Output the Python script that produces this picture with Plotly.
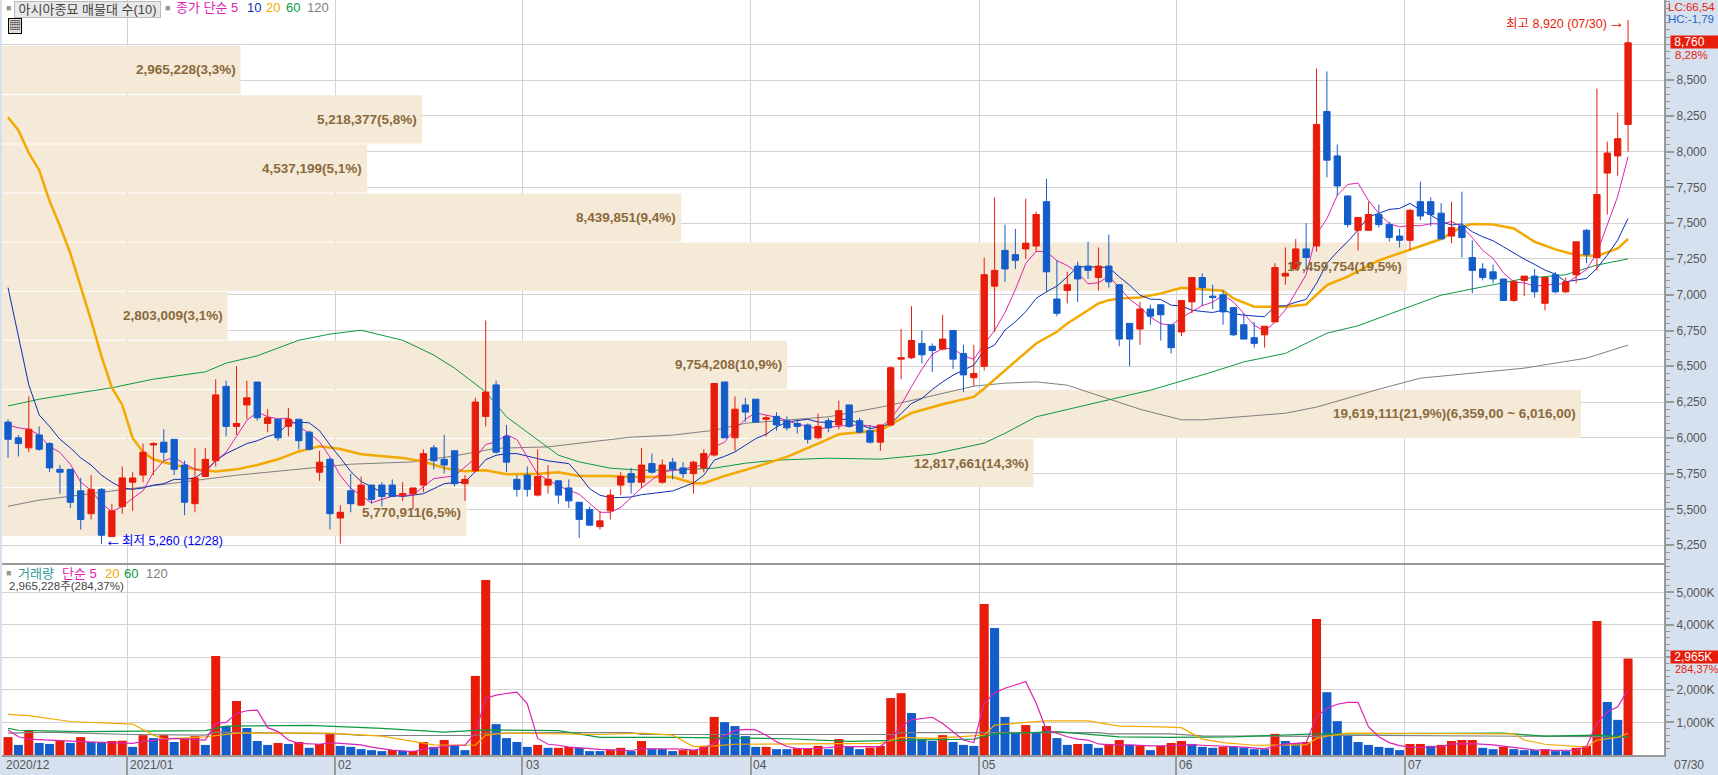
import plotly.graph_objects as go

open_ = [6110,6000,5930,6020,5960,5780,5780,5630,5470,5640,5310,5520,5690,5740,5950,5970,5990,5810,5540,5730,
5840,6360,6080,6230,6390,6100,6130,6080,6130,6040,5760,5850,5440,5630,5530,5670,5670,5670,5600,5610,
5670,5930,5850,5910,5680,5770,6150,6370,6010,5710,5740,5600,5670,5700,5650,5550,5500,5380,5490,5670,
5750,5690,5820,5690,5830,5790,5750,5790,5880,6390,6000,6230,6270,6130,6150,6120,6100,6090,6000,6120,
6090,6230,6120,6050,5970,6090,6550,6560,6660,6640,6620,6750,6590,6420,6500,7060,7310,7280,7320,7340,
7650,6970,7030,7200,7200,7120,7200,7070,6800,6760,6900,6930,6790,6740,6950,7120,6990,7000,6910,6790,
6700,6720,6810,7130,7180,7320,7340,8280,7970,7690,7450,7450,7560,7490,7410,7380,7650,7650,7570,7410,
7480,7260,7180,7160,7110,6960,7100,7130,6940,7140,7020,7140,7450,7260,7850,7970,8190]
high = [6130,6020,6290,6080,5970,5810,5780,5720,5740,5650,5540,5800,5760,5960,5970,6060,5990,5840,5930,5930,
6410,6400,6500,6400,6390,6200,6130,6210,6130,6050,5910,5860,5530,5750,5730,5670,5690,5710,5690,5650,
5920,5950,6020,5910,5740,6280,6820,6400,6090,5740,5800,5920,5810,5700,5710,5550,5520,5490,5640,5760,
5790,5930,5890,5850,5860,5830,5840,5920,6380,6390,6290,6280,6270,6160,6180,6150,6130,6100,6170,6140,
6260,6230,6140,6090,6090,6500,6760,6920,6750,6660,6860,6750,6650,6650,7260,7680,7490,7460,7670,7580,
7810,7240,7160,7230,7370,7330,7420,7070,6800,6950,6930,6930,6790,6960,7120,7150,7070,7030,6910,6870,
6810,6780,7220,7330,7390,7500,8580,8560,8050,7690,7540,7650,7630,7510,7460,7600,7790,7680,7640,7650,
7720,7380,7220,7210,7110,7100,7130,7180,7120,7160,7120,7370,7460,8440,8070,8270,8920]
low = [5860,5870,5900,5910,5760,5610,5510,5360,5430,5260,5310,5470,5490,5690,5740,5840,5740,5460,5480,5730,
5800,6010,6020,6130,6120,6040,5980,6010,5920,5910,5700,5360,5260,5480,5530,5540,5520,5590,5560,5500,
5620,5780,5750,5660,5560,5760,6080,5890,5760,5590,5590,5590,5610,5540,5510,5300,5390,5360,5430,5600,
5610,5650,5750,5680,5710,5720,5610,5760,5870,6000,5910,6110,6110,6010,6050,6050,6030,5960,5990,6040,
6060,6070,6030,5960,5910,6080,6410,6550,6520,6460,6610,6480,6320,6360,6470,6740,7090,7180,7250,7300,
7020,6850,6940,6950,7110,7030,7050,6640,6500,6650,6790,6680,6590,6710,6870,6920,6900,6790,6710,6690,
6630,6630,6810,7070,7170,7170,7300,7820,7690,7470,7310,7450,7470,7370,7330,7310,7520,7480,7390,7360,
7260,7010,7100,7080,6960,6950,6990,6980,6890,7010,7010,7080,7220,7170,7560,7830,8000]
close = [5990,5960,6060,5920,5790,5760,5550,5430,5640,5320,5490,5720,5720,5900,5960,5900,5780,5550,5720,5850,
6300,6080,6100,6280,6140,6140,6000,6130,5980,5920,5830,5470,5480,5540,5670,5570,5590,5590,5610,5650,
5890,5840,5810,5680,5710,6250,6320,5900,5830,5640,5640,5730,5710,5600,5560,5430,5390,5420,5600,5730,
5690,5810,5760,5810,5780,5750,5830,5890,6380,6000,6200,6180,6110,6140,6090,6070,6080,5990,6080,6070,
6190,6080,6040,5970,6090,6490,6560,6680,6580,6610,6690,6550,6440,6450,7140,7170,7180,7240,7360,7560,
7160,6870,7070,7110,7170,7200,7090,6690,6690,6900,6850,6860,6630,6960,7120,7050,6980,6880,6720,6690,
6660,6780,7190,7150,7320,7260,8190,7940,7760,7490,7540,7560,7490,7400,7380,7590,7550,7560,7390,7470,
7400,7170,7120,7110,6960,7090,7130,7020,7120,7020,7090,7370,7280,7700,7990,8090,8760]

volume_k = [550,310,740,370,340,430,370,550,400,390,430,440,250,610,520,610,400,520,580,310,
3040,890,1660,830,430,310,370,340,400,220,340,650,280,250,180,150,120,150,130,130,
400,250,460,280,150,2430,5380,950,520,400,250,310,220,220,250,220,120,120,150,220,
120,430,180,180,120,150,150,280,1170,1010,890,580,250,250,180,180,210,210,280,180,
490,250,180,230,280,1750,1900,1290,490,430,610,400,310,280,4640,3900,1170,710,920,680,
890,520,310,340,340,220,340,460,310,290,150,280,370,430,340,250,220,250,250,230,
180,180,650,430,370,400,4180,1930,1040,610,400,310,250,220,150,340,340,280,310,430,
460,460,220,180,250,180,150,150,180,120,120,220,280,4120,1630,1080,2965]
volume_up = ("RBRBBRBRBB" "RRBRBRBRRB" "RBRBBBRBRB" "RRBBBBBRBR" "RBRBBRRBBB" "BRBRRBBBRR" "BRBBBRRRRB" "BBBRBBRRRB"
             "RBBRRRRBBB" "RBBBRBBBRB" "RBBRBBRRBR" "BRRRBBBRBB" "BBRBBRRBBB" "BBBBBRRBRR" "RRBBRBBBRB" "BRRRBBR")

ma5_idx = [0,1,2,3,4,5,6,7,8,9,10,11,12,13,14,15,16,17,18,19,20,21,22,23,24,25,26,27,28,29,30,31,32,33,34,35,36,37,39,41,43,45,46,47,48,49,50,51,53,55,57,58,59,61,63,65,67,68,69,70,71,72,74,76,78,80,82,84,85,86,87,88,89,90,91,92,93,94,95,96,97,98,99,100,101,102,103,104,105,106,107,108,109,110,111,112,113,114,115,116,117,118,119,120,121,122,123,124,125,126,127,128,129,130,131,132,133,134,135,136,137,138,139,140,141,142,143,144,145,146,147,148,149,150,151,152,153,154,155,156]
ma5_val = [6090,6070,6060,6020,5940,5898,5816,5690,5634,5540,5486,5520,5578,5630,5758,5840,5864,5818,5782,5760,5840,5900,6010,6122,6180,6148,6132,6138,6078,6034,5972,5866,5736,5648,5598,5546,5570,5592,5602,5716,5734,5858,5954,5972,6022,5988,5866,5748,5664,5606,5480,5480,5514,5650,5762,5782,5812,5936,5970,6060,6130,6174,6144,6098,6062,6082,6092,6074,6134,6230,6358,6480,6584,6624,6622,6574,6548,6654,6750,6876,7036,7218,7302,7300,7238,7204,7154,7076,7084,7128,7052,6968,6914,6844,6798,6786,6840,6884,6924,6948,6998,6950,6864,6786,6746,6808,6894,7020,7140,7422,7532,7694,7770,7780,7658,7568,7496,7474,7484,7482,7496,7494,7512,7474,7398,7310,7254,7152,7090,7082,7062,7064,7076,7076,7124,7176,7292,7486,7686,7964]

ma10_val = [7050,6720,6370,6160,6080,5990,5930,5860,5810,5740,5690,5650,5640,5650,5670,5680,5710,5710,5720,5770,5840,5890,5925,5960,5980,6010,6030,6100,6110,6105,6050,5950,5860,5765,5695,5655,5620,5600,5590,5600,
5610,5645,5680,5687,5690,5764,5848,5878,5890,5890,5871,5855,5839,5832,5820,5739,5645,5599,5583,5583,5587,5603,5613,5618,5629,5657,5685,5739,5844,5871,5902,5948,5995,6025,6076,6111,6123,6130,6111,6107,
6123,6135,6095,6065,6077,6100,6170,6240,6275,6338,6391,6438,6473,6508,6612,6648,6753,6811,6881,6974,7021,7060,7125,7195,7195,7195,7191,7125,7067,6997,6969,6967,6927,6920,6892,6883,6876,6892,6869,6857,
6850,6846,6920,6923,6948,6967,7079,7219,7300,7370,7452,7545,7568,7596,7603,7638,7592,7557,7510,7487,7494,7440,7405,7377,7335,7289,7249,7212,7172,7144,7091,7102,7114,7184,7277,7382,7533]

ma20_idx = [0,1,2,3,4,5,6,7,8,9,10,11,12,13,14,15,16,17,18,19,20,22,24,26,28,30,32,34,36,38,40,42,44,46,48,51,53,55,58,60,64,66,67,69,72,75,78,80,84,87,90,93,94,96,99,101,102,104,105,106,107,109,111,113,115,117,118,120,123,125,127,129,132,134,138,140,141,143,145,147,149,151,153,155,156]
ma20_val = [8240,8150,7990,7870,7655,7480,7290,7056,6820,6570,6350,6230,6000,5900,5850,5830,5810,5795,5780,5770,5765,5780,5810,5850,5905,5942,5922,5885,5870,5860,5835,5790,5767,5774,5746,5750,5760,5734,5734,5727,5727,5683,5683,5734,5797,5867,5960,6025,6053,6174,6235,6286,6345,6473,6659,6741,6799,6892,6939,6962,6974,6981,7009,7049,7037,7028,6974,6916,6916,6932,7067,7126,7240,7289,7389,7475,7494,7491,7463,7370,7317,7277,7270,7323,7389]

ma60_idx = [0,3,6,10,14,19,21,24,28,31,34,38,39,41,43,46,48,52,53,55,58,61,64,68,71,74,79,84,89,94,96,99,103,105,110,116,119,123,127,130,133,138,142,146,150,153,156]
ma60_val = [6223,6270,6305,6350,6410,6461,6522,6573,6682,6725,6752,6682,6648,6578,6487,6321,6147,5937,5879,5832,5788,5774,5774,5788,5823,5844,5858,5851,5886,5963,6032,6147,6217,6249,6333,6461,6531,6590,6731,6783,6864,6997,7055,7113,7140,7207,7250]

ma120_idx = [0,3,6,13,17,22,27,30,33,39,43,47,52,60,64,68,71,79,84,88,93,96,99,102,105,109,113,115,123,126,132,136,146,152,156]
ma120_val = [5522,5565,5592,5657,5692,5739,5774,5795,5816,5832,5874,5927,5937,6005,6019,6053,6102,6147,6214,6277,6361,6382,6391,6368,6298,6200,6126,6126,6172,6215,6340,6417,6487,6557,6648]

vma5_idx = [0,1,2,4,7,12,13,16,19,20,21,22,23,24,25,26,27,28,30,31,32,34,35,37,38,39,40,42,43,44,45,46,47,48,49,50,51,52,53,54,56,57,59,60,61,63,65,66,67,68,69,70,71,72,73,74,75,76,78,80,84,85,86,87,88,89,90,91,92,93,94,95,96,97,98,99,100,101,102,103,104,105,106,108,110,112,114,115,117,119,121,122,123,124,125,126,127,128,129,130,131,132,133,134,135,136,138,139,141,143,145,147,149,151,152,153,154,155,156]
vma5_val = [770,560,490,460,410,360,420,510,460,970,1000,1280,1360,1380,840,720,460,360,330,380,360,310,240,150,130,100,180,260,300,300,670,1740,1840,1890,1930,1570,510,330,300,240,190,170,150,130,200,200,180,150,200,360,610,750,790,770,610,410,260,200,200,260,260,510,870,1080,1120,1160,970,720,460,380,1590,1910,2050,2150,2260,1590,770,670,560,490,460,340,310,310,280,290,320,300,280,240,190,260,340,360,380,1180,1430,1560,1620,1620,870,560,380,290,240,230,260,340,350,310,240,160,140,150,260,970,1320,1480,2000]
vma20_idx = [0,2,6,11,12,14,15,19,22,28,31,36,39,41,45,46,48,57,61,64,66,68,70,79,84,86,89,94,95,98,100,104,107,110,113,115,117,120,122,125,126,127,129,133,145,146,148,152,153,155,156]
vma20_val = [1250,1210,1030,970,950,610,490,560,670,670,670,580,410,310,300,610,670,630,670,610,260,280,330,340,360,540,510,610,920,1000,1050,1050,890,870,840,490,380,300,310,310,510,580,670,670,650,460,330,240,460,540,670]
vma60_idx = [0,1,7,19,21,29,36,42,46,53,57,64,75,81,87,93,95,101,105,107,112,118,126,144,148,153,156]
vma60_val = [820,760,720,750,890,910,820,700,770,750,540,540,500,420,460,490,650,720,610,560,540,560,650,670,580,610,560]
vma120_idx = [0,4,7,12,19,20,32,34,45,46,53,60,61,85,86,105,106,112,115,126,127,137,152,156]
vma120_val = [670,700,670,630,610,700,650,600,600,670,690,690,630,630,690,690,650,650,590,570,610,590,560,560]

band_price = [8570,8225,7882,7539,7196,6853,6510,6167,5824,5481]
band_volume = [2965228,5218377,4537199,8439851,17459754,2803009,9754208,19619111,12817661,5770911]
band_labels = ["2,965,228(3,3%)","5,218,377(5,8%)","4,537,199(5,1%)","8,439,851(9,4%)","17,459,754(19,5%)",
               "2,803,009(3,1%)","9,754,208(10,9%)","19,619,111(21,9%)(6,359,00 ~ 6,016,00)","12,817,661(14,3%)","5,770,911(6,5%)"]

price_ticks = [5250,5500,5750,6000,6250,6500,6750,7000,7250,7500,7750,8000,8250,8500,8750]
price_tick_text = ["5,250","5,500","5,750","6,000","6,250","6,500","6,750","7,000","7,250","7,500","7,750","8,000","8,250","8,500",""]
volume_ticks = [1000,2000,3000,4000,5000]
volume_tick_text = ["1,000K","2,000K","3,000K","4,000K","5,000K"]
month_edges = [11.5,31.5,49.5,71.5,93.5,112.5,134.5]
month_labels = ["2020/12","2021/01","02","03","04","05","06","07"]

RED, BLUE = "#e81c0a", "#135dca"
MAG, NAVY, ORG, GRN, GRY = "#dd22b4", "#0d2fb5", "#f2a900", "#0b9a40", "#808080"
GRID, AXIS, PANEL, TXT = "#d3d3d3", "#999999", "#d6e1ef", "#555555"
BEIGE, BROWN = "#f5e9d8", "#8a6a3c"
FONT = "Liberation Sans, Noto Sans CJK KR, sans-serif"

W, H = 1718, 775
L, R, B = 2, 54, 20
PW, PH = W - L - R, H - B
xr = [-0.58, 159.46]
days = list(range(len(close)))

fig = go.Figure()
fig.add_trace(go.Bar(y=band_price, x=band_volume, orientation="h", width=336,
                     marker=dict(color=BEIGE, line_width=0), xaxis="x", yaxis="y"))
for xs, ys, c, w in [(ma120_idx, ma120_val, GRY, 1), (ma60_idx, ma60_val, GRN, 1),
                     (ma20_idx, ma20_val, ORG, 2.5), (days, ma10_val, NAVY, 1), (ma5_idx, ma5_val, MAG, 1)]:
    fig.add_trace(go.Scatter(x=xs, y=ys, mode="lines", line=dict(color=c, width=w), xaxis="x2", yaxis="y"))
fig.add_trace(go.Candlestick(x=days, open=open_, high=high, low=low, close=close,
                             increasing=dict(line=dict(color=RED, width=1), fillcolor=RED),
                             decreasing=dict(line=dict(color=BLUE, width=1), fillcolor=BLUE),
                             whiskerwidth=0, xaxis="x3", yaxis="y"))
fig.add_trace(go.Bar(x=days, y=volume_k, width=0.87, xaxis="x4", yaxis="y2",
                     marker=dict(color=[RED if c == "R" else BLUE for c in volume_up], line_width=0)))
for xs, ys, c in [(vma120_idx, vma120_val, GRY), (vma60_idx, vma60_val, GRN),
                  (vma20_idx, vma20_val, ORG), (vma5_idx, vma5_val, MAG)]:
    fig.add_trace(go.Scatter(x=xs, y=ys, mode="lines", line=dict(color=c, width=1.2), xaxis="x4", yaxis="y2"))

anns = []
def px(x, y, text, color=TXT, anchor="left", size=12, **kw):
    anns.append(dict(xref="paper", yref="paper", x=(x - L) / PW, y=1 - y / PH, text=text, showarrow=False,
                     xanchor=anchor, yanchor="middle", font=dict(color=color, size=size, family=FONT),
                     borderpad=0, **kw))

for p, v, t in zip(band_price, band_volume, band_labels):
    anns.append(dict(xref="x", yref="y", x=v, y=p, text="<b>" + t + "</b>", showarrow=False, xanchor="right",
                     yanchor="middle", xshift=-3, font=dict(color=BROWN, size=13.5, family=FONT)))

px(14, 9, " 아시아종묘 매물대 수(10) ", "#444444", size=13, bgcolor="#e8e8e8", bordercolor="#bbbbbb", borderwidth=1)
px(5, 8, "■", "#999999", size=9)
px(164, 8, "■", "#999999", size=9)
px(175, 8, "종가 단순 5", MAG, size=13)
px(246, 8, "10", NAVY, size=13)
px(265, 8, "20", ORG, size=13)
px(285, 8, "60", GRN, size=13)
px(306, 8, "120", GRY, size=13)
px(8, 26, "▦", "#333333", size=12, bgcolor="#dddddd", bordercolor="#000000", borderwidth=1)
px(1505, 24, "최고 8,920 (07/30)", RED, size=12.5)
px(1607, 23, "<b>→</b>", RED, size=17)
px(104, 540, "<b>←</b>", "#0000ee", size=17)
px(121, 541, "최저 5,260 (12/28)", "#0000ee", size=12.5)
px(1667, 7, "LC:66,54", RED, size=11.5)
px(1667, 19, "HC:-1,79", "#1c66cc", size=11.5)
px(1670, 42, " 8,760", "#ffffff", bgcolor=RED, width=48, height=12, align="left", size=12)
px(1674, 55, "8,28%", RED, size=11.5)
px(1670, 657, " 2,965K", "#ffffff", bgcolor=RED, width=48, height=12, align="left", size=12)
px(1674, 669, "284,37%", RED, size=11)
px(5, 573, "■", "#999999", size=9)
px(17, 573, "거래량", "#2a9a96", size=13)
px(61, 573, "단순 5", MAG, size=13)
px(104, 573, "20", ORG, size=13)
px(123, 573, "60", GRN, size=13)
px(145, 573, "120", GRY, size=13)
px(8, 586, "2,965,228주(284,37%)", "#444444", size=11.5)
for x_, t in zip([5, 129, 337, 525, 752, 981, 1178, 1407], month_labels):
    px(x_, 765, t, size=12)
px(1673, 765, "07/30", size=12)

main_axis = dict(range=xr, showline=False, zeroline=False, showticklabels=False, ticks="",
                 tickmode="array", tickvals=month_edges)
fig.update_layout(
    width=W, height=H, autosize=False,
    margin=dict(l=L, r=R, t=0, b=B, pad=0),
    paper_bgcolor=PANEL, plot_bgcolor="#ffffff",
    showlegend=False, hovermode=False, boxgap=0.13, barmode="overlay",
    font=dict(family=FONT, size=12, color=TXT),
    annotations=anns,
    xaxis=dict(domain=[0, 1], range=[0, 20650000], visible=False, anchor="y"),
    xaxis2=dict(overlaying="x", anchor="y", showgrid=True, gridcolor=GRID, gridwidth=1, **main_axis),
    xaxis3=dict(overlaying="x", anchor="y", showgrid=False, rangeslider=dict(visible=False), **main_axis),
    xaxis4=dict(domain=[0, 1], anchor="y2", range=xr, showgrid=True, gridcolor=GRID, gridwidth=1, zeroline=False,
                tickmode="array", tickvals=month_edges, showticklabels=False, ticks="outside", ticklen=19,
                tickcolor=AXIS, tickwidth=1.5, showline=True, linecolor=AXIS, linewidth=2, mirror=True),
    yaxis=dict(domain=[190 / PH + 0.001, 1], range=[5117, 9059], side="right", anchor="x", showgrid=True,
               gridcolor=GRID, gridwidth=1, zeroline=False, tickmode="array", tickvals=price_ticks,
               ticktext=price_tick_text, ticks="outside", ticklen=8, tickcolor=AXIS, tickwidth=1.5,
               tickfont=dict(size=12, color=TXT), showline=True, linecolor=AXIS, linewidth=2,
               minor=dict(tickmode="array", tickvals=list(range(5150, 9051, 50)), ticks="outside", ticklen=4,
                          tickcolor=AXIS, tickwidth=1, showgrid=False)),
    yaxis2=dict(domain=[0, 190 / PH], range=[0, 5839], side="right", anchor="x4", showgrid=True, gridcolor=GRID,
                gridwidth=1, zeroline=False, tickmode="array", tickvals=volume_ticks, ticktext=volume_tick_text,
                ticks="outside", ticklen=8, tickcolor=AXIS, tickwidth=1.5, tickfont=dict(size=12, color=TXT),
                showline=True, linecolor=AXIS, linewidth=2,
                minor=dict(tickmode="array", tickvals=list(range(200, 5801, 200)), ticks="outside", ticklen=4,
                           tickcolor=AXIS, tickwidth=1, showgrid=False)),
)
fig.write_html("out.html", config=dict(displayModeBar=False),
               post_script="document.body.style.margin='0';document.body.style.overflow='hidden';")
